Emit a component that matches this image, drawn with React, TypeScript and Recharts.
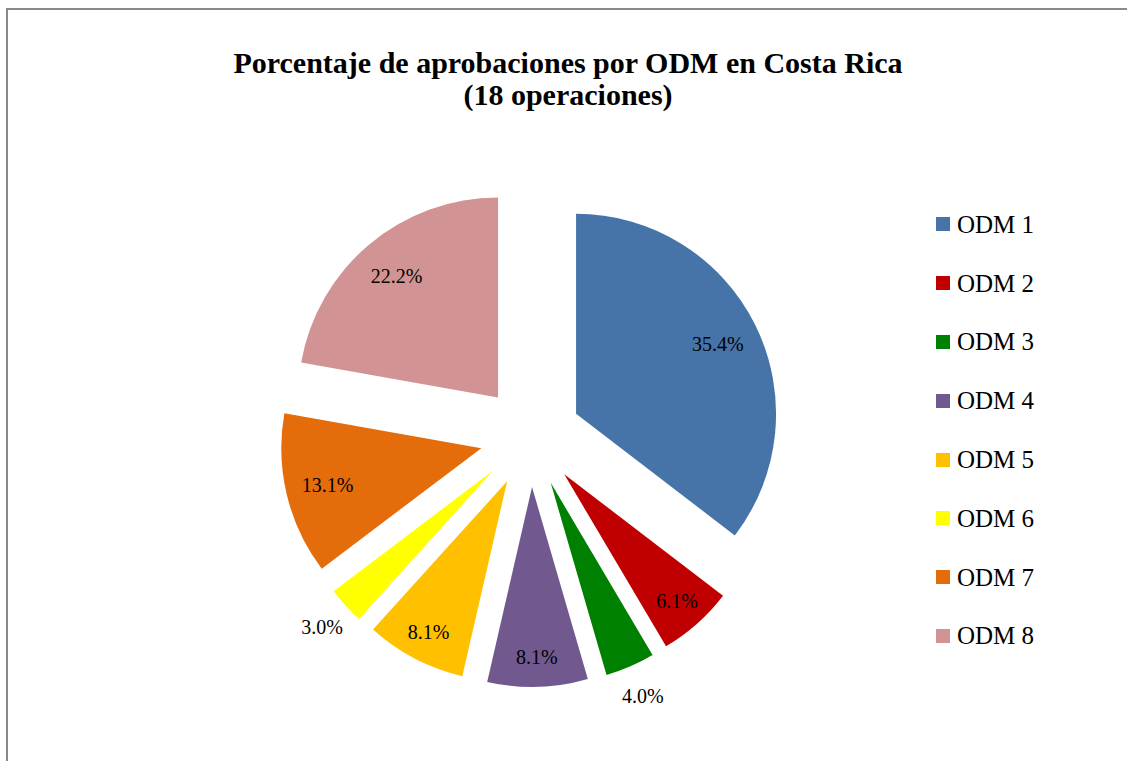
import React from 'react';
import { PieChart, Pie, Cell, Legend, Sector } from 'recharts';

const categories = ['ODM 1', 'ODM 2', 'ODM 3', 'ODM 4', 'ODM 5', 'ODM 6', 'ODM 7', 'ODM 8'];
const values = [35.4, 6.1, 4.0, 8.1, 8.1, 3.0, 13.1, 22.2];
const colors = ['#4673A8', '#C00000', '#008000', '#71598F', '#FFC000', '#FFFF00', '#E46C0A', '#D19393'];
const titleLines = ['Porcentaje de aprobaciones por ODM en Costa Rica', '(18 operaciones)'];

const data = categories.map((name, i) => ({ name, value: values[i] }));

const RAD = Math.PI / 180;
const EXPLODE = 50.7;
const FONT = '"Liberation Serif", "Times New Roman", serif';

const ExplodedSector = (props: any) => {
  const { cx, cy, midAngle } = props;
  const dx = EXPLODE * Math.cos(-midAngle * RAD);
  const dy = EXPLODE * Math.sin(-midAngle * RAD);
  return <Sector {...props} cx={cx + dx} cy={cy + dy} stroke="none" />;
};

const renderLabel = (props: any) => {
  const { cx, cy, midAngle, outerRadius, percent, value } = props;
  const f = percent < 0.05 ? 1.16 : percent < 0.1 ? 0.85 : 0.79;
  const r = EXPLODE + outerRadius * f;
  const x = cx + r * Math.cos(-midAngle * RAD);
  const y = cy + r * Math.sin(-midAngle * RAD);
  return (
    <text x={x} y={y} textAnchor="middle" dominantBaseline="central" fill="#000" fontSize={20} fontFamily={FONT}>
      {Number(value).toFixed(1)}%
    </text>
  );
};

const renderLegend = (props: any) => {
  const payload = (props && props.payload) || [];
  return (
    <div style={{ fontFamily: FONT }}>
      {payload.map((entry: any, i: number) => (
        <div key={i} style={{ display: 'flex', alignItems: 'center', height: 58.8 }}>
          <div style={{ width: 14, height: 14, background: entry.color || colors[i], marginRight: 7 }} />
          <span style={{ fontSize: 25, lineHeight: '25px', color: '#000' }}>{entry.value}</span>
        </div>
      ))}
    </div>
  );
};

export default function App() {
  return (
    <div style={{ position: 'absolute', left: 0, top: 0, width: 1127, height: 761, overflow: 'hidden', background: '#fff' }}>
      <div style={{ position: 'absolute', left: 6, top: 8, width: 1200, height: 800, border: '2px solid #8a8a8a', boxSizing: 'border-box' }} />
      <div style={{ position: 'absolute', left: 0, top: 47, width: 1136, textAlign: 'center', fontFamily: FONT, fontWeight: 'bold', fontSize: 30, lineHeight: '32px', color: '#000' }}>
        {titleLines.map((t) => (
          <div key={t}>{t}</div>
        ))}
      </div>
      <div style={{ position: 'absolute', left: 0, top: 0 }}>
        <PieChart width={1127} height={761} margin={{ top: 0, right: 0, bottom: 0, left: 0 }}>
          <Pie
            data={data}
            dataKey="value"
            nameKey="name"
            cx={530.6}
            cy={436.3}
            innerRadius={0}
            outerRadius={200}
            startAngle={90}
            endAngle={-270}
            stroke="none"
            label={renderLabel}
            labelLine={false}
            shape={ExplodedSector}
            isAnimationActive={false}
          >
            {data.map((d, i) => (
              <Cell key={d.name} fill={colors[i]} />
            ))}
          </Pie>
          <Legend
            content={renderLegend}
            wrapperStyle={{ position: 'absolute', left: 936, top: 195, width: 190 }}
          />
        </PieChart>
      </div>
    </div>
  );
}
